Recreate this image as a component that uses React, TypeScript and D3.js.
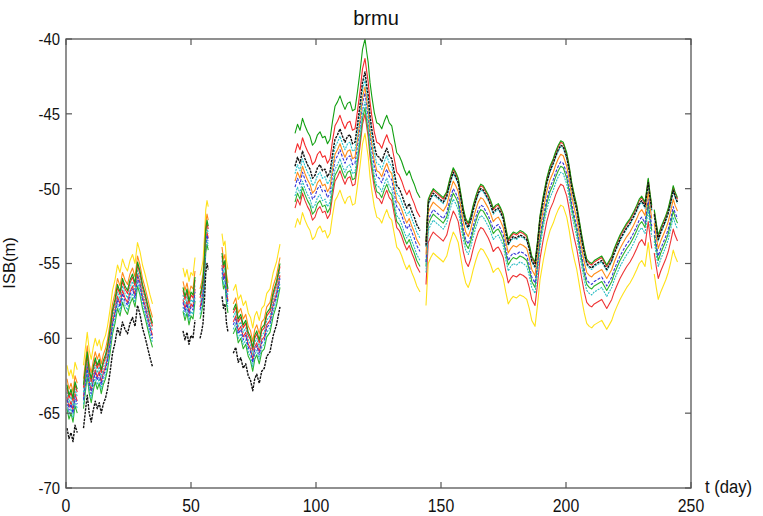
import React from "react";
import * as d3 from "d3";

// ISB time series for station brmu, one curve per satellite pair.
// Each arc is the reference curve (day, ISB in metres); each series sits at a
// per-period offset from it.
const X_TICKS = [0, 50, 100, 150, 200, 250];
const Y_TICKS = [-70, -65, -60, -55, -50, -45, -40];

const ARC_0: [number, number][] = [
  [0.4, -63.6], [1.2, -64.3], [2.0, -63.9], [2.8, -64.5], [3.6, -63.4], [4.5, -63.9],
];
const ARC_1: [number, number][] = [
  [7.0, -63.6], [7.8, -62.4], [8.5, -61.4], [9.3, -62.6], [10.1, -63.2], [10.9, -62.4],
  [11.7, -61.8], [12.5, -62.3], [13.3, -61.9], [14.1, -62.6], [14.9, -62.0], [15.8, -61.6],
  [16.6, -61.0], [17.6, -59.9], [18.6, -58.6], [19.6, -57.9], [20.6, -56.9], [21.6, -57.4],
  [22.6, -56.5], [23.6, -57.0], [24.6, -57.3], [25.6, -56.6], [26.6, -56.2], [27.6, -56.8],
  [28.6, -55.4], [29.6, -56.0], [30.6, -56.9], [31.6, -57.5], [32.6, -58.2], [33.6, -58.9],
  [34.6, -59.5],
];
const ARC_2: [number, number][] = [
  [46.8, -57.1], [47.6, -57.7], [48.4, -57.2], [49.2, -58.0], [50.0, -57.4], [50.8, -57.6], [51.6, -56.4],
];
const ARC_3: [number, number][] = [
  [53.6, -57.6], [54.2, -57.2], [54.8, -56.6], [55.4, -55.0], [55.9, -53.2], [56.4, -52.6], [56.9, -53.0],
];
const ARC_4: [number, number][] = [
  [62.4, -54.8], [63.0, -55.6], [63.6, -55.3], [64.2, -56.6], [64.8, -57.2],
];
const ARC_5: [number, number][] = [
  [66.9, -58.6], [67.9, -58.2], [68.9, -59.2], [69.9, -58.9], [70.9, -59.6], [71.9, -59.3],
  [72.9, -60.1], [73.8, -60.4], [74.7, -61.1], [75.5, -60.3], [76.3, -60.0], [77.3, -60.6],
  [78.3, -59.8], [79.3, -59.6], [80.3, -58.8], [81.6, -58.5], [82.9, -57.4], [84.2, -56.7],
  [85.6, -55.5],
];
const ARC_6: [number, number][] = [
  [91.6, -48.6], [92.6, -48.0], [93.6, -48.4], [94.6, -47.6], [95.6, -48.1], [96.6, -48.5],
  [97.6, -48.8], [98.6, -49.4], [99.6, -49.2], [100.6, -48.7], [101.6, -48.5], [102.6, -48.9],
  [103.6, -48.8], [104.6, -49.3], [105.6, -49.0], [106.6, -47.8], [107.6, -46.8], [108.6, -46.5],
  [109.6, -46.1], [110.6, -46.6], [111.6, -47.0], [112.6, -46.6], [113.6, -46.5], [114.6, -47.1],
  [115.6, -47.0], [116.6, -45.8], [117.6, -44.5], [118.6, -43.0], [119.6, -42.3], [120.3, -43.2],
  [120.9, -43.9], [121.6, -45.2], [122.3, -46.1], [123.3, -47.2], [124.3, -47.9], [125.3, -48.0],
  [126.3, -48.3], [127.3, -47.8], [128.3, -47.4], [129.3, -47.9], [130.3, -48.1], [131.3, -49.0],
  [132.3, -49.9], [133.3, -50.1], [134.3, -50.5], [135.3, -51.0], [136.3, -51.4], [137.3, -51.1],
  [138.3, -51.6], [139.3, -52.0], [140.3, -52.5], [141.6, -52.9],
];
const ARC_7: [number, number][] = [
  [144.0, -53.8], [144.9, -51.0], [145.9, -50.6], [146.9, -50.3], [148.2, -50.5], [149.6, -50.7],
  [150.9, -50.9], [152.3, -50.5], [153.6, -49.6], [154.9, -48.9], [155.9, -49.2], [156.9, -49.6],
  [157.9, -50.6], [158.9, -51.6], [159.9, -52.3], [160.9, -52.6], [161.9, -52.1], [162.9, -51.4],
  [163.9, -50.8], [164.9, -50.3], [165.9, -50.0], [166.9, -50.1], [167.9, -50.4], [168.9, -50.7],
  [169.9, -51.1], [170.9, -51.6], [171.9, -51.4], [172.9, -51.3], [173.9, -51.6], [174.9, -52.0],
  [175.9, -52.9], [176.9, -53.7], [177.9, -53.4], [178.9, -53.2], [180.2, -53.3], [181.6, -53.1],
  [182.9, -53.2], [184.3, -53.4], [185.3, -54.0], [186.3, -54.8], [187.6, -55.2], [188.6, -53.8],
  [189.6, -52.1], [190.9, -50.8], [192.3, -49.6], [193.6, -48.8], [194.9, -48.3], [195.9, -47.8],
  [196.9, -47.4], [197.9, -47.1], [198.9, -47.2], [200.3, -47.9], [201.3, -48.8], [202.3, -49.9],
  [203.3, -50.7], [204.3, -51.4], [205.3, -52.4], [206.3, -53.4], [207.3, -54.3], [208.3, -55.0],
  [209.3, -55.2], [210.3, -55.3], [211.3, -55.1], [212.3, -55.0], [213.3, -54.9], [214.3, -54.8],
  [215.3, -55.1], [216.3, -55.4], [217.3, -55.1], [218.3, -54.8], [219.3, -54.3], [220.3, -53.9],
  [221.6, -53.4], [222.9, -53.0], [224.3, -52.6], [225.6, -52.3], [226.9, -51.9], [228.3, -51.4],
  [229.3, -51.0], [230.3, -50.8], [231.6, -51.2], [232.9, -49.6], [233.6, -50.6], [234.3, -51.4],
];
const ARC_8: [number, number][] = [
  [235.3, -51.7], [236.1, -52.6], [236.9, -53.4], [237.9, -52.9], [238.9, -52.5], [239.9, -52.1],
  [240.9, -51.6], [241.9, -50.9], [242.9, -50.1], [243.6, -50.5], [244.6, -50.9],
];

const ARCS = [ARC_0, ARC_1, ARC_2, ARC_3, ARC_4, ARC_5, ARC_6, ARC_7, ARC_8];
// which offset period each arc belongs to: 0 = early, 1 = mid, 2 = late
const ARC_PERIOD = [0, 0, 0, 0, 0, 0, 1, 2, 2];

const SERIES_NAMES = ["yellow", "red2", "green2", "cyan2", "blue", "orange", "cyan", "red", "green", "black"];
const SERIES_COLORS = ["#ffe11a", "#ee3434", "#2db22d", "#2bbcc4", "#3636d8", "#ff8c1a", "#1fc6cc", "#f42a2a", "#12a012", "#111111"];
// offsets (m) from the reference curve in the early / mid / late periods
const SERIES_OFFSETS = [
  [1.8, -4.0, -4.0],
  [-0.3, -2.7, -2.6],
  [-1.1, -2.3, -1.4],
  [-0.8, -1.9, -1.8],
  [-0.5, -1.3, -1.1],
  [0.9, -0.9, -0.6],
  [0.0, -0.4, -0.1],
  [0.3, 1.0, 0.2],
  [0.5, 2.3, 0.3],
  [-2.4, 0.1, 0.0],
];
const SERIES_DASH = ["", "", "", "2,1", "3,1.5", "", "2,1", "", "", "2.5,1"];

const W = 763;
const H = 516;
const M = { left: 66, right: 691, top: 39, bottom: 488 };

export default function App() {
  const x = d3.scaleLinear().domain([0, 250]).range([M.left, M.right]);
  const y = d3.scaleLinear().domain([-70, -40]).range([M.bottom, M.top]);
  const line = d3
    .line<[number, number]>()
    .x((d) => x(d[0]))
    .y((d) => y(d[1]));

  const font = "'Liberation Sans', Arial, sans-serif";
  const tickLen = 6;

  return (
    <svg width={W} height={H} style={{ position: "absolute", left: 0, top: 0, background: "#fff" }}>
      <defs>
        <clipPath id="plot-clip">
          <rect x={M.left} y={M.top} width={M.right - M.left} height={M.bottom - M.top} />
        </clipPath>
      </defs>
      <rect width={W} height={H} fill="#fff" />

      <g clipPath="url(#plot-clip)" fill="none">
        {SERIES_NAMES.map((name, si) => (
          <g key={name}>
            {ARCS.map((arc, ai) => {
              const off = SERIES_OFFSETS[si][ARC_PERIOD[ai]];
              const pts = arc.map((p) => [p[0], p[1] + off] as [number, number]);
              return (
                <path
                  key={ai}
                  d={line(pts) || ""}
                  stroke={SERIES_COLORS[si]}
                  strokeWidth={name === "black" ? 1.4 : 1.1}
                  strokeDasharray={SERIES_DASH[si] || undefined}
                  strokeLinejoin="round"
                />
              );
            })}
          </g>
        ))}
      </g>

      {/* frame */}
      <rect
        x={M.left}
        y={M.top}
        width={M.right - M.left}
        height={M.bottom - M.top}
        fill="none"
        stroke="#555"
        strokeWidth={1.3}
      />

      {/* inward ticks on all four sides */}
      {X_TICKS.map((t) => (
        <g key={"xt" + t} stroke="#555" strokeWidth={1.2}>
          <line x1={x(t)} x2={x(t)} y1={M.bottom} y2={M.bottom - tickLen} />
          <line x1={x(t)} x2={x(t)} y1={M.top} y2={M.top + tickLen} />
        </g>
      ))}
      {Y_TICKS.map((t) => (
        <g key={"yt" + t} stroke="#555" strokeWidth={1.2}>
          <line x1={M.left} x2={M.left + tickLen} y1={y(t)} y2={y(t)} />
          <line x1={M.right} x2={M.right - tickLen} y1={y(t)} y2={y(t)} />
        </g>
      ))}

      {/* tick labels (slightly condensed, as in the original figure) */}
      {X_TICKS.map((t) => (
        <text
          key={"xl" + t}
          transform={`translate(${x(t)}, 512) scale(0.88, 1)`}
          textAnchor="middle"
          fontFamily={font}
          fontSize={18}
          fill="#111"
        >
          {t}
        </text>
      ))}
      {Y_TICKS.map((t) => (
        <text
          key={"yl" + t}
          transform={`translate(60, ${y(t)}) scale(0.9, 1)`}
          dy="0.36em"
          textAnchor="end"
          fontFamily={font}
          fontSize={16.5}
          fill="#111"
        >
          {t}
        </text>
      ))}

      <text x={376} y={25} textAnchor="middle" fontFamily={font} fontSize={20} fill="#111">
        brmu
      </text>
      <text
        transform="translate(705, 493) scale(0.9, 1)"
        fontFamily={font}
        fontSize={18.5}
        fill="#111"
      >
        t (day)
      </text>
      <text
        transform={`translate(15, ${263}) rotate(-90)`}
        textAnchor="middle"
        fontFamily={font}
        fontSize={16.5}
        fill="#111"
      >
        ISB(m)
      </text>
    </svg>
  );
}
